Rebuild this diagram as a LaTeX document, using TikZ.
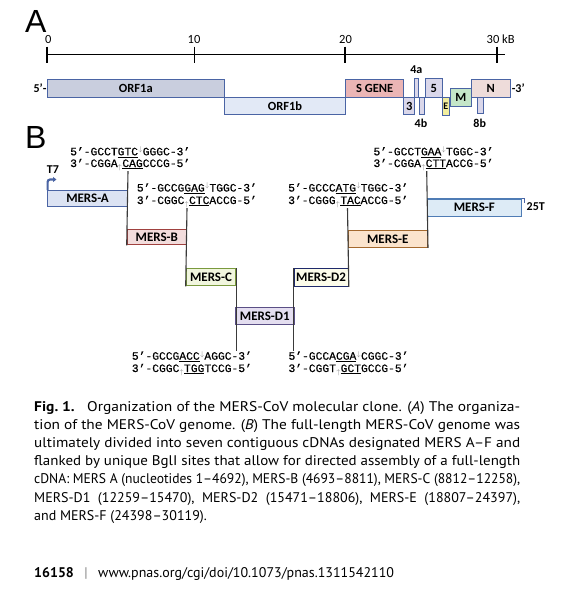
\documentclass[tikz,border=0pt]{standalone}
\usepackage{graphicx}
\usepackage{fontspec}
\setmainfont{PT Sans}
\newfontfamily\calf{Carlito}
\newfontfamily\monof[FakeBold=0.6]{Liberation Mono}
\newfontfamily\arialf{Liberation Sans}
\usetikzlibrary{arrows.meta}
\definecolor{gblue}{HTML}{4A64A4}
\definecolor{orfa}{HTML}{C9CEDE}
\definecolor{orfb}{HTML}{E2E9F6}
\definecolor{sgene}{HTML}{EBB5B5}
\definecolor{lav}{HTML}{DAD7EA}
\definecolor{eyel}{HTML}{F2EE9E}
\definecolor{mgrn}{HTML}{C4E6C8}
\definecolor{npink}{HTML}{EEDCDA}
\definecolor{conncol}{HTML}{3A3A3A}
\definecolor{mAd}{HTML}{4A64A4}\definecolor{mAf}{HTML}{DCE3F3}
\definecolor{mBd}{HTML}{A0413F}\definecolor{mBf}{HTML}{F2DCDC}
\definecolor{mCd}{HTML}{7A9A3E}\definecolor{mCf}{HTML}{F1F6DE}
\definecolor{mD1d}{HTML}{5A4F86}\definecolor{mD1f}{HTML}{E4DEF0}
\definecolor{mD2d}{HTML}{1F2A6B}\definecolor{mD2f}{HTML}{FCFCEA}
\definecolor{mEd}{HTML}{A4692E}\definecolor{mEf}{HTML}{FBE4CD}
\definecolor{mFd}{HTML}{4F7CB5}\definecolor{mFf}{HTML}{DDEBF6}
\newcommand\dnar{\kern0.3pt\raisebox{3.6pt}{\color{gray}\fontsize{7}{7}\selectfont$\downarrow$}\kern0.3pt}
\newcommand\upar{\kern0.3pt\raisebox{-2.6pt}{\color{gray}\fontsize{7}{7}\selectfont$\uparrow$}\kern0.3pt}
\newcommand\capfit[1]{\resizebox{486pt}{\height}{#1}}
\tikzset{
  gbox/.style={draw=gblue, line width=1pt, inner sep=0pt, anchor=north west,
    font=\calf\bfseries\fontsize{12.5}{12.5}\selectfont},
  glab/.style={inner sep=0pt, font=\calf\bfseries\fontsize{12}{12}\selectfont},
  ticklab/.style={inner sep=0pt, font=\calf\fontsize{12.5}{12.5}\selectfont},
  mbox/.style={line width=1.3pt, inner sep=0pt, anchor=north west,
    font=\calf\bfseries\fontsize{13}{13}\selectfont},
  seq/.style={inner sep=0pt, anchor=base west, font=\monof\fontsize{11.3}{11.3}\selectfont},
  conn/.style={draw=conncol, line width=1.1pt},
  capline/.style={inner sep=0pt, anchor=base west, font=\fontsize{14}{14}\selectfont},
  panel/.style={inner sep=0pt, font=\arialf\fontsize{32}{32}\selectfont}
}
\begin{document}
\begin{tikzpicture}[x=1pt,y=-1pt]
\useasboundingbox[fill=white] (0,0) rectangle (561,597);
% panel letters
\node[panel] (pA) at (35.8,21.7) {A};
\node[panel] (pB) at (35.8,137) {B};
% axis
\coordinate (ax0) at (47,54.5);
\coordinate (ax1) at (505,54.5);
\draw[line width=1.4pt] (ax0) -- (ax1);
\foreach \t/\n in {47/t0,194.5/t10,345/t20,497/t30}{
  \coordinate (\n a) at (\t,46.5);
  \coordinate (\n b) at (\t,63);
  \draw[line width=1.2pt] (\n a) -- (\n b);
}
\node[ticklab] (l0) at (48.3,39) {0};
\node[ticklab] (l10) at (194,39) {10};
\node[ticklab] (l20) at (345.5,39) {20};
\node[ticklab, anchor=west] (l30) at (486.5,39) {30 kB};
% genome boxes
\node[gbox, fill=orfa, minimum width=177.3pt, minimum height=17.7pt] (orf1a) at (46.7,79) {ORF1a};
\node[gbox, fill=orfb, minimum width=121pt, minimum height=17.6pt] (orf1b) at (224,96.7) {ORF1b};
\node[gbox, fill=sgene, minimum width=58.3pt, minimum height=17.7pt] (sg) at (345,79) {S GENE};
\node[gbox, fill=lav, minimum width=11pt, minimum height=17.6pt] (g3) at (403.3,96.7) {3};
\node[gbox, fill=lav, minimum width=4.8pt, minimum height=18.4pt] (g4a) at (413.5,78.3) {};
\node[gbox, fill=lav, minimum width=5.8pt, minimum height=17.6pt] (g4b) at (418.5,96.7) {};
\node[gbox, fill=lav, minimum width=16.7pt, minimum height=18.4pt] (g5) at (425,78.3) {5};
\node[gbox, fill=eyel, minimum width=7.3pt, minimum height=17.7pt, font=\calf\bfseries\fontsize{10}{10}\selectfont] (gE) at (441.7,97.3) {E};
\node[gbox, fill=mgrn, minimum width=20.7pt, minimum height=17.7pt] (gM) at (450,88.3) {M};
\node[gbox, fill=npink, minimum width=39.3pt, minimum height=17.7pt] (gN) at (470.7,79) {N};
\node[gbox, fill=lav, minimum width=6pt, minimum height=16.6pt] (g8b) at (476.7,96.7) {};
\node[glab] (l4a) at (416.3,70) {4a};
\node[glab] (l4b) at (421,123) {4b};
\node[glab] (l8b) at (479.7,123) {8b};
\node[glab, anchor=east] (l5p) at (orf1a.west) {5’-};
\node[glab, anchor=west] (l3p) at ([xshift=0.6pt]gN.east) {-3’};
% panel B boxes
\node[mbox, draw=mAd, fill=mAf, minimum width=79.7pt, minimum height=16pt] (mA) at (47,190) {MERS-A};
\node[mbox, draw=mBd, fill=mBf, minimum width=59pt, minimum height=15.5pt] (mB) at (126.7,228.5) {MERS-B};
\node[mbox, draw=mCd, fill=mCf, minimum width=49.3pt, minimum height=17pt] (mC) at (185.7,268) {MERS-C};
\node[mbox, draw=mD1d, fill=mD1f, minimum width=58.3pt, minimum height=17.3pt] (mD1) at (235,306.7) {MERS-D1};
\node[mbox, draw=mD2d, fill=mD2f, minimum width=54.2pt, minimum height=17.5pt] (mD2) at (293.3,268) {MERS-D2};
\node[mbox, draw=mEd, fill=mEf, minimum width=79.2pt, minimum height=16.5pt] (mE) at (347.5,230) {MERS-E};
\node[mbox, draw=mFd, fill=mFf, minimum width=94pt, minimum height=17.2pt] (mF) at (426.7,198.3) {MERS-F};
% T7 promoter
\coordinate (t7s) at ([xshift=0.6pt]mA.north west);
\coordinate (t7e) at (56.5,179.5);
\draw[draw=gblue, line width=2.2pt, rounded corners=2.5pt, -{Triangle[length=3.5pt,width=5pt]}] (t7s) -- (t7s |- t7e) -- (t7e);
\node[glab] (lT7) at (53,170) {T7};
% poly A end
\coordinate (pf1) at (524.5,198.3);
\coordinate (pf2) at (524.5,203);
\draw[draw=gblue, line width=1.5pt] (mF.north east) -- (pf1) -- (pf2);
\node[glab, anchor=west] (l25) at (526.5,206.5) {25T};
% sequences
\node[seq] (s1a) at (70,155.3) {5’-GCCT\underline{GTC}\dnar GGGC-3’};
\node[seq] (s1b) at (70,167) {3’-CGGA\upar\underline{CAG}CCCG-5’};
\node[seq] (s2a) at (136.7,191.5) {5’-GCCG\underline{GAG}\dnar TGGC-3’};
\node[seq] (s2b) at (136.7,204) {3’-CGGC\upar\underline{CTC}ACCG-5’};
\node[seq] (s3a) at (131.7,359.7) {5’-GCCG\underline{ACC}\dnar AGGC-3’};
\node[seq] (s3b) at (131.7,372) {3’-CGGC\upar\underline{TGG}TCCG-5’};
\node[seq] (s4a) at (288.3,359.7) {5’-GCCA\underline{CGA}\dnar CGGC-3’};
\node[seq] (s4b) at (288.3,372) {3’-CGGT\upar\underline{GCT}GCCG-5’};
\node[seq] (s5a) at (288,191.5) {5’-GCCC\underline{ATG}\dnar TGGC-3’};
\node[seq] (s5b) at (288,204) {3’-CGGG\upar\underline{TAC}ACCG-5’};
\node[seq] (s6a) at (373.3,155.3) {5’-GCCT\underline{GAA}\dnar TGGC-3’};
\node[seq] (s6b) at (373.3,167) {3’-CGGA\upar\underline{CTT}ACCG-5’};
% junction lines
\draw[conn] (s1b.south -| mA.east) -- (mB.south west);
\draw[conn] (s2b.south -| mB.east) -- (mC.south west);
\draw[conn] (mC.north east) -- (s3a.north -| mC.east);
\draw[conn] (mD2.north west) -- (s4a.north -| mD2.west);
\draw[conn] (s5b.south -| mE.west) -- (mD2.south east);
\draw[conn] (s6b.south -| mF.west) -- (mE.south east);
% caption
\node[capline] (cap1) at (34,411) {\capfit{\textbf{Fig.\kern0.25em1.}\kern0.8em Organization of the MERS-CoV molecular clone. (\textit{A}) The organiza-}};
\node[capline] (cap2) at (34,429.2) {\capfit{tion of the MERS-CoV genome. (\textit{B}) The full-length MERS-CoV genome was}};
\node[capline] (cap3) at (34,447.4) {\capfit{ultimately divided into seven contiguous cDNAs designated MERS A–F and}};
\node[capline] (cap4) at (34,465.6) {\capfit{flanked by unique BglI sites that allow for directed assembly of a full-length}};
\node[capline] (cap5) at (34,483.8) {\capfit{cDNA: MERS A (nucleotides 1–4692), MERS-B (4693–8811), MERS-C (8812–12258),}};
\node[capline] (cap6) at (34,502) {\capfit{MERS-D1 \ (12259–15470), \ MERS-D2 \ (15471–18806), \ MERS-E \ (18807–24397),}};
\node[capline] (cap7) at (34,520.2) {and MERS-F (24398–30119).};
% footer
\node[capline] (foot) at (34,577.5) {\textbf{16158}\hspace{0.75em}{\color{gray}|}\hspace{0.75em}www.pnas.org/cgi/doi/10.1073/pnas.1311542110};
\end{tikzpicture}
\end{document}
